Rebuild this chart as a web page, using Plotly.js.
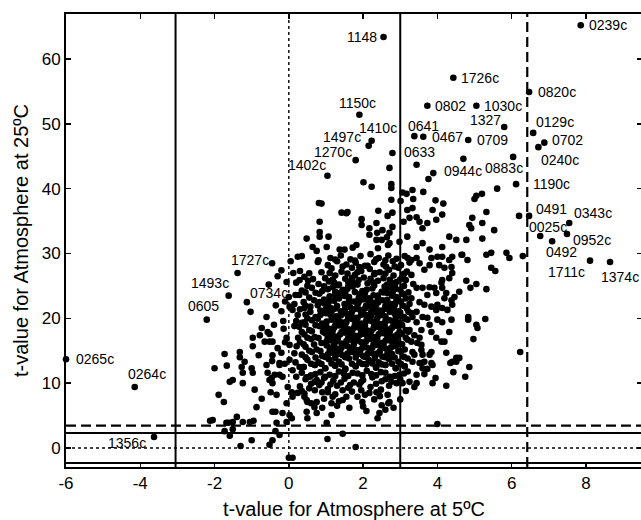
<!DOCTYPE html>
<html><head><meta charset="utf-8">
<script src="https://cdn.plot.ly/plotly-3.0.1.min.js"></script>
<style>html,body{margin:0;padding:0;overflow:hidden;background:#fff}#chart{width:646px;height:520px}</style>
</head><body><div id="chart"></div>
<script>
// Labelled strains
const labelNames = ["0239c","1148","1726c","0820c","0802","1030c","1150c","1327","0129c","1410c","0641","0467","1497c","0702","0709","1270c","0633","0240c","1402c","0944c","0883c","1190c","0491","0343c","0025c","0952c","0492","1711c","1374c","1727c","1493c","0734c","0605","0265c","0264c","1356c"];
const labelX = [7.86,2.55,4.43,6.47,3.73,5.05,1.90,5.80,6.58,2.23,3.38,3.62,2.15,6.88,4.83,1.80,2.79,6.72,1.04,3.89,6.04,6.12,6.47,7.55,6.77,7.49,7.09,8.11,8.65,-1.38,-1.62,-1.13,-2.21,-6.00,-4.15,-3.63];
const labelY = [65.2,63.4,57.1,54.9,52.8,52.8,51.4,49.5,48.6,47.4,48.1,48.0,46.6,47.1,47.5,44.4,45.5,46.4,42.0,42.4,44.9,40.7,35.8,34.7,32.7,33.0,31.9,28.9,28.7,27.0,23.5,22.5,19.8,13.7,9.4,1.7];

// Unlabelled strains [t at 5ºC, t at 25ºC]
const cloudPts = [
[2.71,43.2],[3.44,43.7],[3.76,41.5],[4.70,44.6],[2.01,41.0],[2.23,40.3],[2.76,40.7],[2.76,40.1],[2.76,38.3],[3.06,39.4],[3.17,39.2],[3.33,39.8],[3.35,38.4],[3.62,39.5],[3.01,38.1],[0.88,37.7],[3.95,38.2],[4.16,37.7],[5.0,38.4],[5.05,38.9],[5.2,39.2],[5.61,40.0],[1.42,36.3],[1.58,36.4],[2.41,36.6],[2.66,35.8],[2.79,36.3],[1.96,35.3],[1.96,34.4],[0.83,34.9],[0.83,33.3],[2.17,33.9],[2.36,34.7],[2.52,33.6],[2.71,33.2],[2.79,34.1],[3.09,34.9],[3.25,35.5],[3.44,35.6],[3.52,34.9],[3.19,36.7],[3.33,37.0],[3.6,33.9],[3.73,34.7],[3.87,36.7],[3.97,35.2],[4.13,36.0],[4.86,34.4],[4.91,33.9],[4.94,35.5],[5.21,34.7],[5.53,33.6],[6.2,35.8],[0.48,32.3],[0.64,31.0],[1.02,31.0],[0.83,32.6],[1.07,32.6],[1.37,30.6],[1.5,30.6],[1.72,30.9],[1.82,31.3],[2.17,32.9],[2.36,32.1],[2.71,31.6],[2.98,31.8],[3.19,32.6],[3.44,31.0],[3.6,31.6],[3.79,30.6],[4.13,31.0],[4.32,32.6],[4.51,32.1],[4.78,32.1],[5.21,32.3],[5.45,30.1],[5.86,30.1],[5.94,29.3],[4.67,29.8],[0.24,29.5],[5.32,36.4],[2.38,33.2],[2.5,32.1],[2.4,30.8],[2.64,32.5],[2.67,31.3],[1.55,36.2],[0.75,30.4],[0.81,37.8],
[-0.54,25.2],[-1.03,21.0],[-0.6,20.2],[-0.06,25.6],[0.29,25.9],[0.02,21.8],[0.1,21.3],[0.24,20.5],[0.42,21.6],[0.42,19.4],[-0.73,18.5],[-0.57,17.9],[-0.52,17.6],[-0.78,17.4],[-0.97,17.0],[-0.65,16.4],[-0.52,16.4],[-0.44,16.4],[-0.97,15.7],[-0.14,18.4],[-0.06,17.0],[0.02,15.9],[0.21,15.7],[-1.73,14.5],[-1.32,14.8],[-1.32,14.0],[-1.19,13.3],[-0.81,14.3],[-0.44,14.3],[-0.25,13.1],[0.02,13.6],
[-2.0,12.3],[-1.67,12.7],[-1.27,12.5],[-1.24,11.6],[-1.0,12.3],[-0.97,11.6],[-1.51,10.5],[-1.59,10.2],[-1.24,10.0],[-1.89,8.2],[-1.75,7.1],[-0.92,9.0],[-0.73,7.6],[-0.87,6.3],[-0.6,12.8],[-0.46,10.8],[-0.52,10.5],[-0.44,10.0],[-0.57,11.6],[-0.38,11.3],[-0.25,11.3],[-0.49,8.6],[-0.33,8.2],[-0.25,12.8],[-0.11,13.0],[-0.03,9.4],[0.08,8.6],[0.1,7.9],[-0.06,6.9],[-0.44,5.6],[-0.36,5.6],[-0.17,5.4],[0.02,5.1],[0.08,4.6],[-0.06,4.0],[-1.4,4.8],[-1.51,4.0],[-1.62,3.9],[-1.68,3.9],[-2.05,4.3],[-2.12,4.2],[-1.24,4.0],[-1.05,4.0],[-0.95,4.2],[-1.73,2.6],[-1.59,1.9],[-1.51,2.9],[-0.33,3.9],[-0.36,2.6],[-0.25,2.0],[-1.0,1.2],[-0.44,1.2],[-0.52,0.5],[-1.3,0.3],[0.0,-1.5],[0.1,-1.5],
[-0.45,28.5],[0.05,28.8],[-0.2,27.4],[0.12,27.0],[-0.1,22.6],[0.18,23.6],[-0.35,22.0],[-0.15,19.6],[0.15,18.8],[-0.3,15.4],[0.15,14.6],[-0.45,13.4],[0.1,12.0],[0.29,12.5],[0.56,11.0],[0.75,10.5],[-0.17,11.0],[0.24,8.5],[0.48,7.4],[0.6,6.9],[0.69,6.3],
[-0.3,26.5],[0.0,23.3],[-0.2,21.1],[0.15,22.2],[-0.4,19.0],[0.2,19.6],[-0.1,16.3],[0.25,17.0],[-0.2,14.7],[0.18,13.2],
[0.5,4.6],[0.48,5.6],[0.75,5.4],[1.02,3.9],[1.15,5.1],[1.63,6.2],[2.09,5.7],[2.39,4.6],[2.44,5.4],[2.6,5.9],[2.82,6.2],[2.68,6.9],[1.45,2.2],[1.04,1.4],[1.8,0.15],[0.42,7.9],[0.5,7.1],[0.75,7.1],[1.18,7.9],[1.15,6.9],[1.45,7.4],[1.55,7.9],[1.85,7.9],[1.98,7.1],[2.17,8.5],[2.36,8.6],[2.66,8.2],[2.71,7.1],[2.9,10.0],[2.76,10.2],[3.06,10.0],[3.25,10.2],
[4.24,9.6],[4.75,11.0],[4.86,12.5],[4.43,11.7],[4.35,13.1],[4.51,13.3],[3.87,10.0],[3.95,10.8],[3.87,12.8],[3.73,12.2],[3.65,11.4],[3.44,11.3],[3.44,10.0],[3.38,9.4],[3.57,13.1],[3.6,12.3],[4.0,3.7],
[5.32,29.8],[6.3,29.6],[5.45,27.8],[5.56,27.3],[4.78,25.8],[4.89,24.7],[5.05,25.3],[5.32,24.5],[4.59,24.1],[4.46,23.3],[4.83,20.2],[4.83,19.8],[5.05,19.0],[5.08,18.5],[5.29,19.9],[4.97,16.8],[4.32,17.9],[6.23,14.8],[3.97,17.0],[4.11,16.4],[4.19,16.4],[3.84,17.9],[4.24,14.7],[4.51,13.9],[4.40,13.3],[4.59,13.9],[3.52,17.0],[3.57,15.9],[3.57,15.1],[3.33,14.8],[3.38,14.4],[3.84,14.8],[3.79,14.4],[3.6,14.4],
[3.44,29.3],[3.52,28.5],[3.65,27.5],[3.79,28.2],[3.84,29.3],[4.0,29.5],[4.13,29.5],[4.32,29.0],[4.40,29.5],[4.65,29.8],[4.81,29.0],[4.05,28.2],[4.19,27.8],[4.38,27.9],[4.40,27.0],[4.32,26.2],[4.13,25.9],[4.11,25.5],
[3.44,24.7],[3.6,24.7],[3.79,24.8],[3.92,24.7],[3.73,23.6],[3.97,23.9],[4.13,24.7],[4.24,23.9],[4.19,23.1],[4.38,22.8],[3.30,23.1],[3.52,22.5],[3.65,22.1],[3.84,21.8],[4.0,22.1],[4.13,21.6],[3.97,21.3],[4.27,21.3],[4.40,22.1],[3.44,21.0],[3.33,20.2],[3.6,20.2],[3.73,20.1],[3.44,19.4],[3.79,19.0],[4.0,19.8],[4.13,19.4],[4.38,19.8],[3.25,18.2],[3.38,17.4],[3.57,18.2],[3.30,16.4],[3.46,16.2],[3.33,13.3],[3.52,13.1],[3.65,13.3],[3.84,13.1],
[0.35,29.6],[1.12,29.3],[1.4,29.7],[1.66,29.1],[1.93,29.6],[2.2,29.9],[2.42,29.3],[2.68,29.7],[2.9,29.2],[3.12,29.6],[3.3,29.0],
[0.78,28.7],[1.05,28.2],[1.3,28.8],[1.55,28.3],[1.8,28.6],[2.05,28.1],[2.3,28.7],[2.55,28.3],[2.8,28.8],[3.02,28.2],[3.25,28.6],
[0.3,27.3],[0.88,27.1],[1.15,27.7],[1.42,27.2],[1.7,27.8],[1.95,27.3],[2.18,27.6],[2.45,27.1],[2.7,27.5],[2.95,27.8],[3.18,27.2],
[0.42,26.4],[0.98,26.2],[1.25,26.6],[1.52,26.1],[1.78,26.7],[2.02,26.3],[2.3,26.8],[2.55,26.2],[2.82,26.6],[3.05,26.3],[3.3,26.7],
[0.2,25.5],[0.52,25.8],[0.8,25.3],[1.08,25.7],[1.35,25.2],[1.6,25.6],[1.88,25.9],[2.12,25.4],[2.4,25.8],[2.65,25.2],[2.9,25.6],[3.15,25.9],[3.35,25.3],
[0.35,24.3],[0.62,24.7],[0.9,24.2],[1.18,24.8],[1.45,24.4],[1.72,24.9],[1.98,24.2],[2.25,24.6],[2.5,24.1],[2.75,24.8],[3.0,24.4],[3.22,24.0],
[0.28,23.6],[0.55,23.2],[0.82,23.8],[1.1,23.4],[1.38,23.9],[1.62,23.3],[1.9,23.7],[2.15,23.1],[2.4,23.5],[2.65,23.9],[2.9,23.3],[3.1,23.7],
[0.4,22.5],[0.68,22.8],[0.95,22.3],[1.22,22.7],[1.5,22.2],[1.75,22.6],[2.0,22.9],[2.28,22.4],[2.52,22.8],[2.78,22.2],[3.02,22.6],[3.25,22.2],
[0.3,21.4],[0.58,21.8],[0.85,21.2],[1.12,21.6],[1.4,21.1],[1.65,21.7],[1.92,21.3],[2.2,21.8],[2.45,21.2],[2.7,21.6],[2.95,21.1],[3.18,21.5],
[0.45,20.6],[0.72,20.2],[1.0,20.8],[1.28,20.3],[1.55,20.7],[1.82,20.1],[2.08,20.5],[2.35,20.9],[2.6,20.3],[2.85,20.7],[3.1,20.2],[3.3,20.8],
[0.35,19.3],[0.62,19.7],[0.9,19.2],[1.15,19.8],[1.42,19.4],[1.7,19.9],[1.95,19.2],[2.22,19.6],[2.48,19.1],[2.72,19.7],[2.98,19.3],[3.2,19.8],
[0.28,18.7],[0.55,18.2],[0.82,18.8],[1.08,18.4],[1.35,18.9],[1.6,18.3],[1.88,18.6],[2.12,18.1],[2.4,18.7],[2.65,18.3],[2.92,18.8],[3.15,18.2],
[0.42,17.5],[0.7,17.1],[0.98,17.7],[1.25,17.2],[1.5,17.8],[1.78,17.3],[2.05,17.6],[2.3,17.1],[2.55,17.7],[2.8,17.2],[3.05,17.6],
[0.3,16.3],[0.6,16.8],[0.88,16.2],[1.15,16.6],[1.42,16.1],[1.68,16.7],[1.95,16.3],[2.2,16.8],[2.48,16.2],[2.72,16.6],[2.98,16.1],[3.2,16.7],
[0.45,15.6],[0.75,15.2],[1.02,15.8],[1.3,15.3],[1.58,15.7],[1.85,15.1],[2.1,15.5],[2.38,15.9],[2.62,15.3],[2.88,15.7],[3.12,15.2],
[0.35,14.4],[0.62,14.8],[0.9,14.2],[1.18,14.7],[1.45,14.3],[1.72,14.8],[2.0,14.2],[2.25,14.6],[2.52,14.1],[2.78,14.5],[3.02,14.9],
[0.5,13.6],[0.8,13.2],[1.08,13.7],[1.35,13.3],[1.62,13.8],[1.9,13.2],[2.15,13.6],[2.42,13.2],[2.7,13.7],[2.95,13.3],[3.2,13.8],
[0.4,12.5],[0.7,12.8],[0.98,12.3],[1.25,12.7],[1.52,12.2],[1.8,12.6],[2.08,12.9],[2.35,12.4],[2.6,12.8],[2.88,12.3],[3.12,12.6],
[0.8,28.95],[1.25,29.05],[1.78,28.9],[2.35,29.1],[2.6,28.95],[3.2,29.3],
[1.45,28.0],[1.9,27.9],[2.12,28.1],[2.62,27.95],[2.85,28.0],
[0.55,26.95],[1.1,27.0],[1.58,26.9],[1.85,27.1],[2.32,27.0],[2.6,26.9],[3.1,26.85],
[0.65,26.05],[1.18,26.0],[1.7,26.2],[2.2,26.1],[2.72,25.95],[3.0,26.0],
[0.5,25.0],[0.95,24.95],[1.32,25.1],[1.6,24.95],[1.85,25.2],[2.3,25.05],[2.58,24.9],[2.85,25.1],[3.1,25.0],
[0.45,24.0],[0.72,23.95],[1.25,24.1],[1.52,23.85],[1.78,24.05],[2.05,23.9],[2.55,24.0],[2.8,24.1],[3.05,23.85],
[0.95,22.9],[1.35,23.05],[1.62,22.9],[1.88,23.1],[2.18,22.95],[2.4,23.0],[2.65,22.85],[2.9,22.95],[3.15,23.05],
[0.45,21.95],[0.78,22.0],[1.05,22.05],[1.3,21.9],[1.58,22.0],[1.85,22.1],[2.08,21.95],[2.35,22.05],[2.6,21.9],[2.85,22.0],[3.08,21.95],
[0.58,21.0],[0.88,20.9],[1.15,21.05],[1.45,20.95],[1.7,21.0],[1.98,20.9],[2.22,21.05],[2.5,20.95],[2.72,21.0],[3.0,20.9],[3.22,21.0],
[0.5,20.0],[0.78,19.95],[1.32,19.9],[1.6,20.0],[1.85,20.05],[2.1,19.9],[2.38,20.0],[2.62,19.9],[2.88,20.05],[3.12,19.95],
[0.45,19.0],[0.72,18.95],[1.0,19.05],[1.25,18.9],[1.52,19.0],[1.78,19.05],[2.05,18.9],[2.3,19.0],[2.58,18.95],[2.82,19.05],[3.05,18.95],
[0.35,17.9],[0.62,18.0],[0.92,17.95],[1.18,18.05],[1.42,17.9],[1.7,18.0],[1.95,17.95],[2.22,18.05],[2.48,17.95],[2.72,18.0],[2.98,17.9],[3.22,17.95],
[0.5,17.0],[0.8,16.95],[1.05,17.05],[1.32,16.9],[1.6,17.0],[1.85,16.95],[2.12,17.05],[2.38,16.9],[2.65,17.0],[2.9,16.95],[3.15,17.0],
[0.4,16.0],[0.68,15.95],[1.22,15.9],[1.5,16.0],[1.75,15.95],[2.02,16.05],[2.28,15.9],[2.55,16.0],[2.8,15.95],[3.05,16.0],
[0.55,15.0],[0.85,14.95],[1.1,15.05],[1.38,14.9],[1.65,15.0],[1.92,14.95],[2.18,15.05],[2.45,14.9],[2.7,15.0],[2.95,14.95],
[0.45,14.0],[0.72,13.95],[0.98,14.05],[1.25,13.9],[1.52,14.0],[1.8,13.95],[2.05,14.05],[2.32,13.9],[2.6,14.0],[2.85,13.95],[3.1,14.05],
[0.6,13.0],[0.88,12.95],[1.15,13.05],[1.42,12.9],[1.7,13.0],[1.98,12.95],[2.25,13.05],[2.5,12.9],[2.78,13.0],[3.02,12.95],
[1.22,25.5],[1.75,25.45],[2.28,25.5],[2.78,25.45],
[1.05,24.5],[1.58,24.55],[2.1,24.45],[2.62,24.5],[2.88,24.55],
[1.25,23.55],[1.5,23.45],[2.02,23.5],[2.28,23.55],[2.78,23.5],
[0.82,22.5],[1.08,22.55],[1.62,22.45],[1.88,22.5],[2.15,22.55],[2.4,22.45],[2.65,22.5],[2.9,22.55],
[1.0,21.45],[1.25,21.5],[1.52,21.55],[1.78,21.45],[2.05,21.5],[2.32,21.55],[2.58,21.45],[2.82,21.5],
[0.85,20.5],[1.12,20.55],[1.4,20.45],[1.68,20.5],[1.95,20.55],[2.22,20.45],[2.48,20.5],[2.98,20.5],
[1.02,19.5],[1.28,19.55],[1.55,19.45],[1.82,19.5],[2.08,19.55],[2.35,19.45],[2.6,19.5],[2.85,19.55],
[0.95,18.5],[1.22,18.55],[1.48,18.45],[1.75,18.5],[2.0,18.55],[2.28,18.45],[2.52,18.5],[2.78,18.55],
[1.12,17.45],[1.38,17.5],[1.65,17.55],[1.92,17.45],[2.18,17.5],[2.42,17.55],[2.68,17.45],[2.92,17.5],
[1.02,16.5],[1.28,16.45],[1.55,16.5],[1.82,16.55],[2.08,16.45],[2.35,16.5],[2.6,16.55],[2.85,16.45],
[1.15,15.5],[1.42,15.45],[1.72,15.5],[1.98,15.45],[2.25,15.5],[2.5,15.45],[2.75,15.5],
[1.05,14.45],[1.32,14.5],[1.58,14.55],[1.85,14.45],[2.12,14.5],[2.38,14.55],[2.65,14.45],
[0.4,12.5],[0.7,12.8],[0.98,12.3],[1.25,12.7],[1.52,12.2],[1.8,12.6],[2.08,12.9],[2.35,12.4],[2.6,12.8],[2.88,12.3],[3.12,12.6],
[0.35,11.6],[0.6,11.2],[0.85,11.7],[1.1,11.3],[1.35,11.8],[1.6,11.1],[1.85,11.5],[2.1,11.9],[2.35,11.2],[2.6,11.6],[2.85,11.1],[3.1,11.5],
[0.45,10.6],[0.7,10.2],[0.95,10.8],[1.2,10.4],[1.5,10.7],[1.75,10.1],[2.0,10.5],[2.25,10.9],[2.5,10.3],[3.0,10.6],
[0.3,9.5],[0.55,9.2],[0.82,9.7],[1.05,9.1],[1.3,9.6],[1.6,9.3],[1.9,9.8],[2.2,9.4],[2.48,9.0],[2.7,9.6],
[0.42,8.4],[0.9,8.6],[1.25,8.3],[1.7,8.7],[2.05,8.2],
[0.2,11.0],[0.48,10.9],[0.72,11.4],[0.98,11.0],[1.25,11.1],[1.48,11.5],[1.72,11.6],[1.98,11.2],[2.22,11.4],[2.48,11.7],[2.72,11.0],[2.98,11.3],
[0.6,9.9],[0.88,10.1],[1.12,9.8],[1.4,10.1],[1.65,9.7],[1.95,10.2],[2.35,9.9],[2.6,10.6],[0.35,8.8],[0.7,8.9],[1.05,8.6],[1.45,8.9],[1.95,8.9],[2.45,8.0],
[0.95,7.6],[1.35,7.2],[2.3,7.5],[0.9,6.2],[1.3,6.5],[2.0,6.4],[2.5,6.6],[3.0,7.5],[3.15,8.8],[3.2,11.8]
];

const xTickVals = [-6,-4,-2,0,2,4,6,8];
const yTickVals = [0,10,20,30,40,50,60];
const vLineX = [-3.05, 0, 3.0, 6.42];
const vLineDash = ["solid","dot","solid","dash"];
const hLineY = [-2.3, 0, 2.3, 3.45];
const hLineDash = ["solid","dot","solid","dash"];

// label placement (pixel offsets from the point)
const labelPos = {
 "0239c":["left",6,0],"1148":["right",-5,0],"1726c":["left",6,0],"0820c":["left",7,0],
 "0802":["left",6,0],"1030c":["left",6,0],"1150c":["center",-2,12],"1327":["right",-1,7],
 "0129c":["left",1,11],"1410c":["center",6,13],"0641":["center",9,10],"0467":["left",7,0],
 "1497c":["right",-6,9],"0702":["left",6,3],"0709":["left",7,0],"1270c":["right",-2,8],
 "0633":["left",10,1],"0240c":["left",1,-13],"1402c":["right",1,11],"0944c":["left",9,2],
 "0883c":["center",-9,-11],"1190c":["left",15,0],"0491":["left",5,7],"0343c":["left",3,10],
 "0025c":["center",8,9],"0952c":["left",4,-6],"0492":["center",9,-11],"1711c":["right",-3,-11],
 "1374c":["center",10,-15],"1727c":["center",12,13],"1493c":["center",-19,13],"0734c":["left",1,9],
 "0605":["center",-3,14],"0265c":["left",8,0],"0264c":["center",12,13],"1356c":["right",-6,-6]
};

const FONT = "Liberation Sans, Arial, Helvetica, sans-serif";
const markerStyle = {color:"#000", size:6.6, line:{width:0}};

const traces = [
 {type:"scatter", mode:"markers", x:cloudPts.map(p=>p[0]), y:cloudPts.map(p=>p[1]),
  marker:markerStyle, cliponaxis:false, hoverinfo:"none", showlegend:false},
 {type:"scatter", mode:"markers", x:labelX, y:labelY,
  marker:markerStyle, cliponaxis:false, hoverinfo:"none", showlegend:false}
];

function lineStyle(kind){
  if (kind==="dot") return {color:"#000", width:1.4, dash:"3px,3px"};
  if (kind==="dash") return {color:"#000", width:2.2, dash:"10px,5px"};
  return {color:"#000", width:2, dash:"solid"};
}
const shapes = [];
vLineX.forEach((v,i)=>shapes.push({type:"line", xref:"x", yref:"paper", x0:v, x1:v, y0:0, y1:1, line:lineStyle(vLineDash[i]), layer:"below"}));
hLineY.forEach((v,i)=>shapes.push({type:"line", xref:"paper", yref:"y", x0:0, x1:1, y0:v, y1:v, line:lineStyle(hLineDash[i]), layer:"below"}));

const annotations = labelNames.map((n,i)=>({
  x:labelX[i], y:labelY[i], xref:"x", yref:"y", text:n, showarrow:false,
  xanchor:labelPos[n][0], yanchor:"middle", xshift:labelPos[n][1], yshift:labelPos[n][2],
  font:{family:FONT, size:14, color:"#000"}
}));

const axisCommon = {
  ticks:"inside", ticklen:5, tickwidth:1.5, tickcolor:"#000",
  showline:true, linewidth:2, linecolor:"#000", mirror:"ticks",
  showgrid:false, zeroline:false, tickfont:{family:FONT, size:17, color:"#000"}
};

const layout = {
  width:646, height:520,
  margin:{l:66, r:4, t:14, b:53},
  paper_bgcolor:"#fff", plot_bgcolor:"#fff",
  font:{family:FONT, color:"#000"},
  xaxis:Object.assign({}, axisCommon, {range:[-6, 9.51], tickvals:xTickVals, ticktext:xTickVals.map(String),
    title:{text:"t-value for Atmosphere at 5ºC", font:{family:FONT, size:20, color:"#000"}, standoff:10}}),
  yaxis:Object.assign({}, axisCommon, {range:[-2.93, 66.94], tickvals:yTickVals, ticktext:yTickVals.map(String),
    title:{text:"t-value for Atmosphere at 25ºC", font:{family:FONT, size:20, color:"#000"}, standoff:8}}),
  shapes:shapes, annotations:annotations, showlegend:false
};

Plotly.newPlot("chart", traces, layout, {displayModeBar:false, staticPlot:true});
</script>
</body></html>
